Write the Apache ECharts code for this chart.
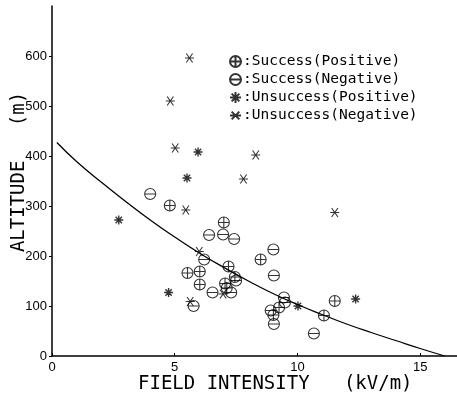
<!DOCTYPE html>
<html>
<head>
<meta charset="utf-8">
<script src="https://cdn.jsdelivr.net/npm/echarts@6/dist/echarts.min.js"></script>
<style>
html,body{margin:0;padding:0;background:#fff;}
#chart{width:457px;height:397px;}
</style>
</head>
<body>
<div id="chart"></div>
<script>
// Data
var successPositive = [[4.8,301],[5.52,166],[6.02,169],[6.02,143],[7.0,267],[7.19,179],[7.45,158],[7.05,145],[7.12,136],[8.5,193],[9.25,97],[9.02,82],[11.08,81],[11.52,110]];
var successNegative = [[4.0,324],[6.4,242],[6.97,243],[7.42,234],[6.2,193],[7.5,151],[6.54,127],[7.3,127],[5.77,100],[9.02,213],[9.04,161],[9.45,117],[9.49,107],[8.91,91],[9.04,64],[10.67,45]];
var unsuccessPositive = [[5.95,408],[5.5,356],[2.72,272],[4.75,127],[10.02,100],[12.37,114]];
var unsuccessNegative = [[5.6,596],[4.82,510],[5.02,416],[7.8,354],[8.3,402],[5.45,292],[6.0,209],[5.63,109],[6.97,124],[11.52,287]];
var curveX = [0.2, 1, 2, 3, 4, 5, 6, 7, 8, 9, 10, 11, 12, 13, 14, 15, 16];
var curveY = [427, 389, 348, 309, 272, 238, 206, 177, 150, 125, 103, 83, 64, 47, 31, 15, 0];
var xTicks = [0, 5, 10, 15];
var yTicks = [0, 100, 200, 300, 400, 500, 600];
var seriesNames = ['Success(Positive)', 'Success(Negative)', 'Unsuccess(Positive)', 'Unsuccess(Negative)'];

var curveData = curveX.map(function (x, i) { return [x, curveY[i]]; });

var symPlus = 'path://M0,-10A10,10 0 1,1 0,10A10,10 0 1,1 0,-10ZM-10,0L10,0M0,-10L0,10';
var symMinus = 'path://M0,-10A10,10 0 1,1 0,10A10,10 0 1,1 0,-10ZM-10,0L10,0';
var symAstP = 'path://M0,-10L0,10M-10,0L10,0M-7,-7L7,7M-7,7L7,-7';
var symAstN = 'path://M-7,-7L7,7M-7,7L7,-7M-10,0L10,0';

var chart = echarts.init(document.getElementById('chart'));
var markerStyle = function (w) {
  return { color: 'transparent', borderColor: '#000', borderWidth: w };
};
chart.setOption({
  animation: false,
  backgroundColor: '#fff',
  grid: { left: 52, right: 0, top: 6, bottom: 41 },
  legend: {
    orient: 'vertical', left: 229, top: 54, padding: 0,
    itemWidth: 11, itemHeight: 11, itemGap: 3,
    data: seriesNames,
    formatter: function (n) { return ':' + n; },
    textStyle: { fontFamily: 'DejaVu Sans Mono', fontSize: 14.5, color: '#000', padding: [0, 0, 0, -3] }
  },
  xAxis: {
    type: 'value', min: 0, max: 16.5, interval: 5,
    splitLine: { show: false },
    axisLine: { lineStyle: { color: '#000', width: 1.5 } },
    axisTick: { inside: true, length: 3, lineStyle: { color: '#000' } },
    axisLabel: {
      margin: 5, color: '#000', fontFamily: 'Liberation Sans', fontSize: 13,
      showMaxLabel: false,
      formatter: function (v) { return xTicks.indexOf(v) >= 0 ? String(v) : ''; }
    }
  },
  yAxis: {
    type: 'value', min: 0, max: 700, interval: 100,
    splitLine: { show: false },
    axisLine: { lineStyle: { color: '#000', width: 1.5 } },
    axisTick: { inside: false, length: 3, lineStyle: { color: '#000' } },
    axisLabel: {
      margin: 5, color: '#000', fontFamily: 'Liberation Sans', fontSize: 13,
      showMaxLabel: false,
      formatter: function (v) { return yTicks.indexOf(v) >= 0 ? String(v) : ''; }
    }
  },
  graphic: [
    { type: 'text', x: 19, y: 172, rotation: Math.PI / 2,
      style: { text: 'ALTITUDE   (m)', font: '19px "DejaVu Sans Mono"', fill: '#000', align: 'center', verticalAlign: 'middle' } },
    { type: 'text', x: 138, y: 384,
      style: { text: 'FIELD INTENSITY   (kV/m)', font: '19px "DejaVu Sans Mono"', fill: '#000', align: 'left', verticalAlign: 'middle' } }
  ],
  series: [
    { name: 'curve', type: 'line', data: curveData, smooth: true, showSymbol: false,
      lineStyle: { color: '#000', width: 1.3 }, z: 1 },
    { name: seriesNames[0], type: 'scatter', data: successPositive, symbol: symPlus, symbolSize: 11,
      itemStyle: markerStyle(1.1), z: 3 },
    { name: seriesNames[1], type: 'scatter', data: successNegative, symbol: symMinus, symbolSize: 11,
      itemStyle: markerStyle(1.1), z: 3 },
    { name: seriesNames[2], type: 'scatter', data: unsuccessPositive, symbol: symAstP, symbolSize: 9,
      itemStyle: markerStyle(1.4), z: 3 },
    { name: seriesNames[3], type: 'scatter', data: unsuccessNegative, symbol: symAstN, symbolSize: 9,
      itemStyle: markerStyle(1.1), z: 3 }
  ]
});
</script>
</body>
</html>
